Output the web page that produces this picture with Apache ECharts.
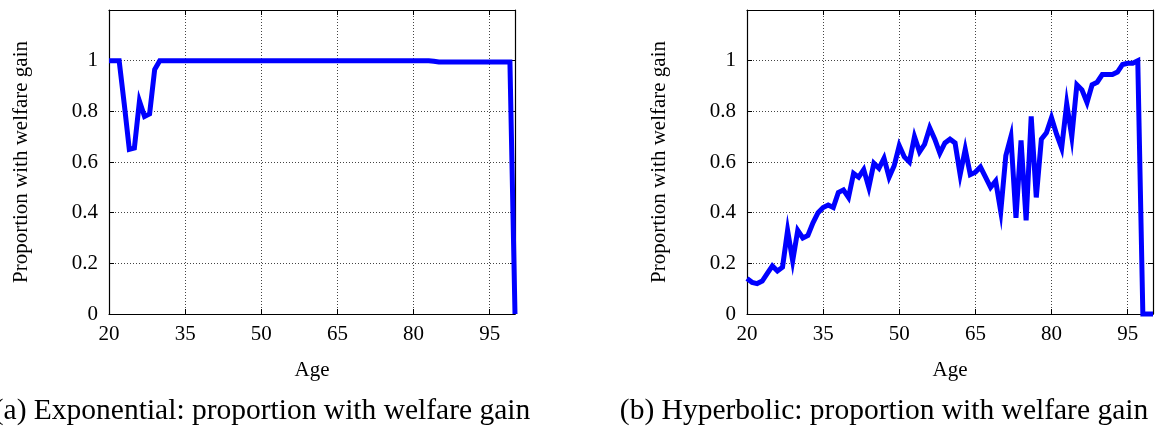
<!DOCTYPE html>
<html>
<head>
<meta charset="utf-8">
<script src="https://cdn.jsdelivr.net/npm/echarts@6/dist/echarts.min.js"></script>
<style>
html,body{margin:0;padding:0;background:#fff;}
#chart{width:1161px;height:429px;}
</style>
</head>
<body>
<div id="chart"></div>
<script>
const ages = [20,21,22,23,24,25,26,27,28,29,30,31,32,33,34,35,36,37,38,39,40,41,42,43,44,45,46,47,48,49,50,51,52,53,54,55,56,57,58,59,60,61,62,63,64,65,66,67,68,69,70,71,72,73,74,75,76,77,78,79,80,81,82,83,84,85,86,87,88,89,90,91,92,93,94,95,96,97,98,99,100];
const expValues = [
  1,1,1,0.83,0.65,0.655,0.84,0.78,0.79,0.965,   // 20-29
  1,1,1,1,1,1,1,1,1,1,                           // 30-39
  1,1,1,1,1,1,1,1,1,1,                           // 40-49
  1,1,1,1,1,1,1,1,1,1,                           // 50-59
  1,1,1,1,1,1,1,1,1,1,                           // 60-69
  1,1,1,1,1,1,1,1,1,1,                           // 70-79
  1,1,1,1,0.998,0.995,0.995,0.995,0.995,0.995,   // 80-89
  0.995,0.995,0.995,0.995,0.995,0.995,0.995,0.995,0.995,0.995, // 90-99
  0];                                            // 100
const hypValues = [
  0.14,0.125,0.12,0.13,0.16,0.19,0.17,0.185,0.33,0.21,      // 20-29
  0.33,0.30,0.31,0.36,0.40,0.42,0.43,0.42,0.48,0.49,        // 30-39
  0.46,0.555,0.54,0.57,0.50,0.595,0.575,0.615,0.54,0.585,   // 40-49
  0.665,0.62,0.60,0.70,0.64,0.67,0.735,0.69,0.635,0.675,    // 50-59
  0.69,0.675,0.55,0.65,0.55,0.56,0.58,0.54,0.50,0.525,      // 60-69
  0.405,0.625,0.70,0.38,0.685,0.37,0.78,0.46,0.69,0.715,    // 70-79
  0.775,0.71,0.655,0.83,0.70,0.905,0.885,0.835,0.905,0.915, // 80-89
  0.945,0.945,0.945,0.955,0.985,0.99,0.99,1.0,0,0,          // 90-99
  0];                                                       // 100
const xTicks = [20,35,50,65,80,95];
const yAxisTitle = 'Proportion with welfare gain';
const xAxisTitle = 'Age';
const captions = ['(a) Exponential: proportion with welfare gain', '(b) Hyperbolic: proportion with welfare gain'];

const FONT = '"Liberation Serif", "DejaVu Serif", serif';
const chart = echarts.init(document.getElementById('chart'), null, {renderer: 'canvas'});

const grids = [
  {left: 109, top: 10, width: 406, height: 304},
  {left: 747, top: 10, width: 406, height: 304}
];
const gridLine = {show: true, lineStyle: {color: '#444', width: 1, type: [1, 2]}};
const frameLine = {show: true, onZero: false, lineStyle: {color: '#000', width: 1.2}};

const xAxes = [], yAxes = [], series = [];
[expValues, hypValues].forEach((vals, i) => {
  xAxes.push({
    type: 'value', gridIndex: i, min: 20, max: 100, position: 'bottom',
    axisLine: frameLine,
    axisTick: {show: true, inside: true, length: 5, customValues: xTicks, lineStyle: {color: '#000'}},
    axisLabel: {show: true, customValues: xTicks, margin: 10, color: '#000', fontFamily: FONT, fontSize: 21},
    splitLine: gridLine,
    name: xAxisTitle, nameLocation: 'middle', nameGap: 46,
    nameTextStyle: {color: '#000', fontFamily: FONT, fontSize: 21}
  });
  xAxes.push({
    type: 'value', gridIndex: i, min: 20, max: 100, position: 'top',
    axisLine: frameLine,
    axisTick: {show: true, inside: true, length: 5, customValues: xTicks, lineStyle: {color: '#000'}},
    axisLabel: {show: false}, splitLine: {show: false}
  });
  yAxes.push({
    type: 'value', gridIndex: i, min: 0, max: 1.2, interval: 0.2, position: 'left',
    axisLine: frameLine,
    axisTick: {show: true, inside: true, length: 5, lineStyle: {color: '#000'}},
    axisLabel: {show: true, margin: 11, color: '#000', fontFamily: FONT, fontSize: 21,
      formatter: v => (v > 1.1 ? '' : String(Math.round(v * 10) / 10))},
    splitLine: gridLine,
    name: yAxisTitle, nameLocation: 'middle', nameGap: 77, nameRotate: 90,
    nameTextStyle: {color: '#000', fontFamily: FONT, fontSize: 21}
  });
  yAxes.push({
    type: 'value', gridIndex: i, min: 0, max: 1.2, interval: 0.2, position: 'right',
    axisLine: frameLine,
    axisTick: {show: true, inside: true, length: 5, lineStyle: {color: '#000'}},
    axisLabel: {show: false}, splitLine: {show: false}
  });
  series.push({
    type: 'line', xAxisIndex: i * 2, yAxisIndex: i * 2,
    data: ages.map((a, k) => [a, vals[k]]),
    showSymbol: false, clip: false, animation: false,
    lineStyle: {color: '#0000ff', width: 5, join: 'miter', cap: 'butt'}
  });
});

chart.setOption({
  animation: false,
  backgroundColor: '#fff',
  grid: grids,
  xAxis: xAxes,
  yAxis: yAxes,
  series: series,
  graphic: [
    {type: 'text', x: 262, y: 411, style: {text: captions[0], font: '29.5px ' + FONT, fill: '#000', align: 'center', verticalAlign: 'middle'}},
    {type: 'text', x: 884, y: 411, style: {text: captions[1], font: '29.5px ' + FONT, fill: '#000', align: 'center', verticalAlign: 'middle'}}
  ]
});
</script>
</body>
</html>
